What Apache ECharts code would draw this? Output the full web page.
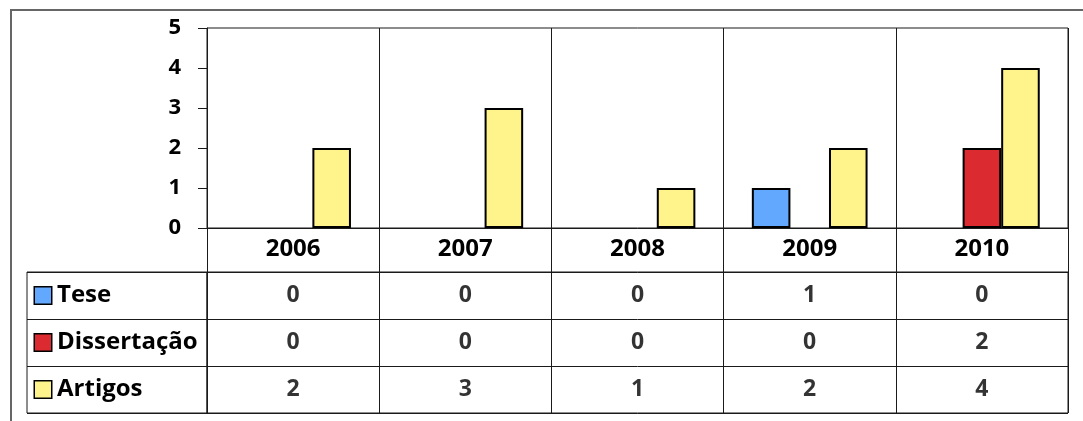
<!DOCTYPE html>
<html>
<head>
<meta charset="utf-8">
<script src="https://cdn.jsdelivr.net/npm/echarts@6/dist/echarts.min.js"></script>
<style>
html,body{margin:0;padding:0;background:#fff;}
#c{width:1083px;height:421px;}
</style>
</head>
<body>
<div id="c"></div>
<script>
const years = ['2006', '2007', '2008', '2009', '2010'];
const seriesNames = ['Tese', 'Dissertação', 'Artigos'];
const tese = [0, 0, 0, 1, 0];
const dissertacao = [0, 0, 0, 0, 2];
const artigos = [2, 3, 1, 2, 4];
const yTicks = [0, 1, 2, 3, 4, 5];
const colors = ['#62A8FF', '#DC2B30', '#FFF48C'];

const values = [tese, dissertacao, artigos];
const FONT = '"Open Sans", sans-serif';
const LINE = '#1a1a1a';
const TXT = '#000';

const chart = echarts.init(document.getElementById('c'), null, {renderer: 'canvas'});

const rich = { name: { fontFamily: FONT, fontWeight: 'bold', fontSize: 24, color: TXT, padding: [0, 0, 0, 6] } };
seriesNames.forEach((n, i) => {
  rich['b' + i] = { width: 16, height: 16, backgroundColor: colors[i], borderColor: '#000', borderWidth: 1.5 };
});

const tableData = [];
values.forEach((arr, si) => arr.forEach((v, yi) => tableData.push([years[yi], seriesNames[si], v])));

const option = {
  animation: false,
  backgroundColor: '#fff',
  graphic: [{
    type: 'rect', silent: true, z: -1,
    shape: { x: 11, y: 10, width: 1090, height: 430 },
    style: { fill: 'none', stroke: '#666', lineWidth: 2 }
  }],
  grid: [
    { left: 207, top: 28, width: 861, height: 200, show: true, borderColor: LINE, borderWidth: 1 },
    { left: 207, top: 272, width: 861, height: 141, show: true, borderColor: LINE, borderWidth: 1 },
    { left: 27, top: 272, width: 180, height: 141, show: true, borderColor: LINE, borderWidth: 1 }
  ],
  xAxis: [
    {
      gridIndex: 0, type: 'category', data: years,
      axisLine: { show: true, lineStyle: { color: LINE, width: 1 } },
      axisTick: { show: true, length: 44, lineStyle: { color: LINE, width: 1 } },
      splitLine: { show: true, lineStyle: { color: LINE, width: 1 } },
      axisLabel: { fontFamily: FONT, fontWeight: 'bold', fontSize: 24, color: TXT, margin: 9 }
    },
    {
      gridIndex: 1, type: 'category', data: years,
      axisLine: { show: false }, axisTick: { show: false }, axisLabel: { show: false },
      splitLine: { show: true, lineStyle: { color: LINE, width: 1 } }
    },
    { gridIndex: 2, type: 'value', show: false }
  ],
  yAxis: [
    {
      gridIndex: 0, type: 'value', min: yTicks[0], max: yTicks[yTicks.length - 1], interval: 1,
      axisLine: { show: true, lineStyle: { color: LINE, width: 1 } },
      axisTick: { show: true, length: 9, lineStyle: { color: LINE, width: 1 } },
      splitLine: { show: false },
      axisLabel: { fontFamily: FONT, fontWeight: 'bold', fontSize: 22, color: TXT, margin: 26 }
    },
    {
      gridIndex: 1, type: 'category', data: seriesNames, inverse: true,
      axisLine: { show: false }, axisTick: { show: false }, axisLabel: { show: false },
      splitLine: { show: true, lineStyle: { color: LINE, width: 1 } }
    },
    {
      gridIndex: 2, type: 'category', data: seriesNames, inverse: true,
      axisLine: { show: false }, axisTick: { show: false },
      splitLine: { show: true, lineStyle: { color: LINE, width: 1 } },
      axisLabel: {
        inside: true, margin: 8,
        formatter: (v) => '{b' + seriesNames.indexOf(v) + '|}{name|' + v + '}',
        rich: rich
      }
    }
  ],
  series: [
    ...seriesNames.map((n, i) => ({
      type: 'bar', name: n, xAxisIndex: 0, yAxisIndex: 0,
      data: values[i].map(v => v === 0 ? '-' : v),
      barWidth: '22.4%', barGap: '0%',
      itemStyle: { color: colors[i], borderColor: '#000', borderWidth: 2 }
    })),
    {
      type: 'scatter', xAxisIndex: 1, yAxisIndex: 1,
      data: tableData, symbolSize: 1,
      itemStyle: { color: 'rgba(0,0,0,0)' },
      label: {
        show: true, position: 'inside',
        formatter: (p) => String(p.value[2]),
        fontFamily: FONT, fontWeight: 'bold', fontSize: 23, color: TXT
      }
    }
  ]
};
chart.setOption(option);
</script>
</body>
</html>
